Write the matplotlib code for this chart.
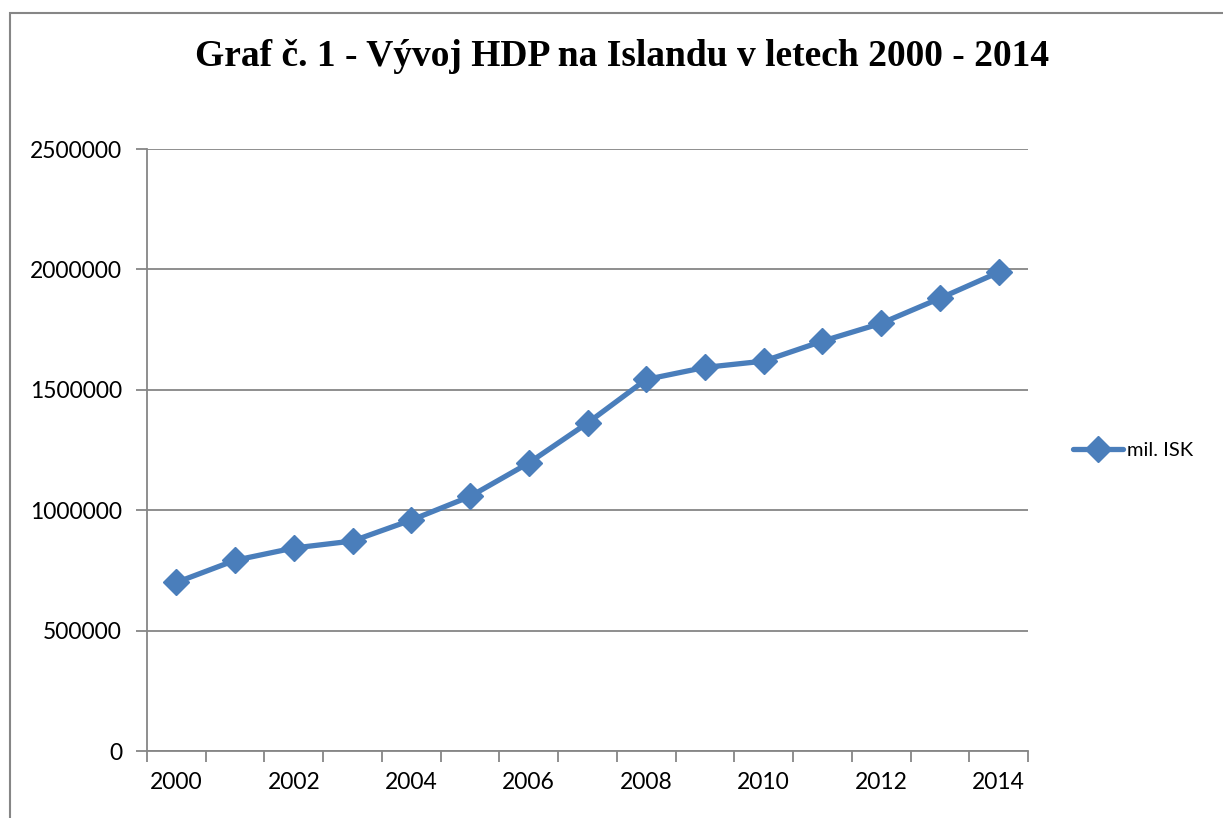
import numpy as np
import matplotlib
matplotlib.use("Agg")
import matplotlib.pyplot as plt
from matplotlib.patches import Rectangle

years = [2000, 2001, 2002, 2003, 2004, 2005, 2006, 2007,
         2008, 2009, 2010, 2011, 2012, 2013, 2014]
gdp = [700000, 792000, 843000, 872000, 959000, 1057000, 1196000, 1362000,
       1543000, 1593000, 1619000, 1702000, 1776000, 1880000, 1988000]
yticks = [0, 500000, 1000000, 1500000, 2000000, 2500000]
series_name = "mil. ISK"
title = "Graf č. 1 - Vývoj HDP na Islandu v letech 2000 - 2014"

gray = "#868686"
blue = "#4a7ebb"

fig = plt.figure(figsize=(12.23, 8.18), dpi=100)
fig.patches.append(Rectangle((10 / 1223, -0.1), 1.2, 1.1 - 13 / 818,
                             transform=fig.transFigure, fill=False,
                             edgecolor=gray, linewidth=1.5))

ax = fig.add_axes([147 / 1223, 1 - 751 / 818, 881 / 1223, 602 / 818])
x = np.arange(len(years))
ax.plot(x, gdp, color=blue, linewidth=3.8, marker="D", markersize=13,
        label=series_name, solid_capstyle="round", zorder=3)

ax.set_xlim(-0.5, len(years) - 0.5)
ax.set_ylim(0, 2500000)
ax.set_yticks(yticks)
ax.set_yticklabels([str(v) for v in yticks])
ax.grid(axis="y", color=gray, linewidth=1.3)
ax.set_axisbelow(True)

# ticks at category boundaries, labels at every other category centre
ax.set_xticks(np.arange(len(years) + 1) - 0.5)
ax.set_xticklabels([])
ax.set_xticks(x[::2], minor=True)
ax.set_xticklabels([str(y) for y in years[::2]], minor=True)
ax.tick_params(axis="x", which="minor", length=0, pad=15)
ax.tick_params(axis="x", which="major", length=8, width=1.3, color=gray)
ax.tick_params(axis="y", length=8, width=1.3, color=gray, pad=10)
for lab in ax.get_xticklabels(minor=True) + ax.get_yticklabels():
    lab.set_fontfamily("Lato")
    lab.set_fontsize(16.5)

for s in ["top", "right"]:
    ax.spines[s].set_visible(False)
for s in ["left", "bottom"]:
    ax.spines[s].set_color(gray)
    ax.spines[s].set_linewidth(1.3)

fig.text(622 / 1223, 1 - 57 / 818, title, ha="center", va="center",
         fontfamily="Liberation Serif", fontweight="bold", fontsize=27)

leg = ax.legend(loc="center left", bbox_to_anchor=(1.03, 0.5), frameon=False,
                prop={"family": "Lato", "size": 14.5}, handlelength=2.5,
                handletextpad=0.2)

fig.savefig("out.png", dpi=100)
